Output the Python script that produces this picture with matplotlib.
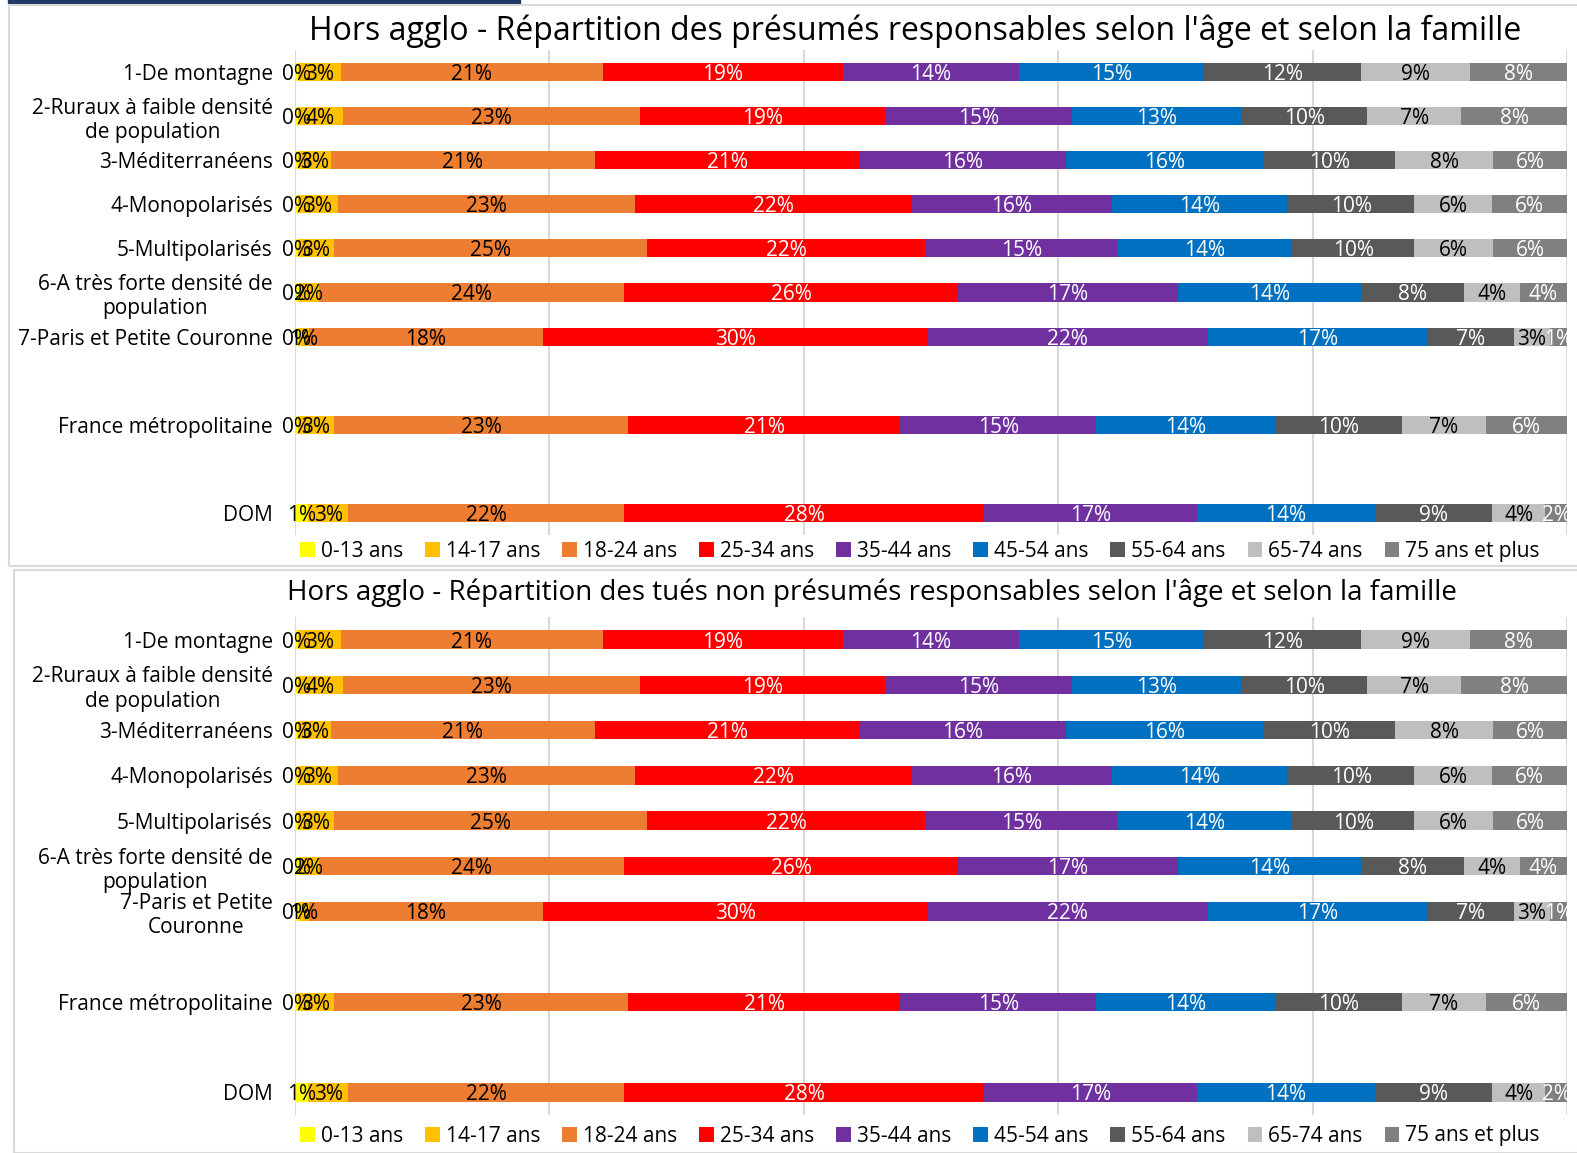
import matplotlib.pyplot as plt
from matplotlib.patches import Rectangle
import numpy as np

plt.rcParams["font.family"] = ["Open Sans", "DejaVu Sans"]

W, H = 1577, 1153

ages = ["0-13 ans", "14-17 ans", "18-24 ans", "25-34 ans", "35-44 ans",
        "45-54 ans", "55-64 ans", "65-74 ans", "75 ans et plus"]
colors = ["#FFFF00", "#FFC000", "#ED7D31", "#FF0000", "#7030A0",
          "#0070C0", "#595959", "#BFBFBF", "#808080"]
text_colors = ["black", "black", "black", "white", "white",
               "white", "white", "black", "white"]

cats_top = ["1-De montagne", "2-Ruraux à faible densité\nde population",
            "3-Méditerranéens", "4-Monopolarisés", "5-Multipolarisés",
            "6-A très forte densité de\npopulation", "7-Paris et Petite Couronne",
            "France métropolitaine", "DOM"]
cats_bottom = ["1-De montagne", "2-Ruraux à faible densité\nde population",
               "3-Méditerranéens", "4-Monopolarisés", "5-Multipolarisés",
               "6-A très forte densité de\npopulation", "7-Paris et Petite\nCouronne",
               "France métropolitaine", "DOM"]
row_pos = [0, 1, 2, 3, 4, 5, 6, 8, 10]

# % par tranche d'âge (0-13 ... 75+)
montagne = [0.2, 3.4, 20.6, 18.9, 13.8, 14.6, 12.3, 8.6, 7.6]
ruraux = [0.2, 3.6, 23.3, 19.3, 14.7, 13.3, 9.9, 7.4, 8.3]
mediterraneens = [0.2, 2.6, 20.8, 20.8, 16.2, 15.6, 10.3, 7.7, 5.8]
monopolarises = [0.2, 3.2, 23.3, 21.8, 15.7, 13.9, 9.9, 6.1, 5.9]
multipolarises = [0.2, 2.9, 24.6, 21.8, 15.2, 13.7, 9.6, 6.2, 5.8]
tres_dense = [0.3, 1.6, 24.0, 26.2, 17.3, 14.4, 8.1, 4.4, 3.7]
paris_pc = [0.3, 0.8, 18.4, 30.2, 22.1, 17.2, 6.8, 2.9, 1.3]
france_metro = [0.2, 2.9, 23.1, 21.4, 15.4, 14.1, 9.9, 6.6, 6.4]
dom = [1.0, 3.2, 21.7, 28.3, 16.7, 14.0, 9.2, 4.2, 1.7]

values = np.array([montagne, ruraux, mediterraneens, monopolarises,
                   multipolarises, tres_dense, paris_pc, france_metro, dom])

fig = plt.figure(figsize=(W / 100, H / 100), dpi=100)
fig.patch.set_facecolor("white")


def px_axes(left, top, right, bottom):
    return fig.add_axes([left / W, 1 - bottom / H, (right - left) / W, (bottom - top) / H])


def draw_panel(ax, cats, title, title_x, title_y, title_size, legend_y):
    left = np.zeros(len(cats))
    handles = []
    for j, age in enumerate(ages):
        w = values[:, j]
        h = ax.barh(row_pos, w, left=left, height=0.41, color=colors[j],
                    label=age, zorder=2)
        handles.append(h)
        for y, l, v in zip(row_pos, left, w):
            ax.text(l + v / 2, y, f"{v:.0f}%", ha="center", va="center_baseline",
                    color=text_colors[j], fontsize=15, zorder=3)
        left += w

    ax.set_xlim(0, 100)
    ax.set_ylim(10.5, -0.5)
    ax.set_xticks(np.arange(0, 101, 20))
    ax.set_xticklabels([])
    ax.tick_params(axis="x", length=0)
    ax.grid(axis="x", color="#D9D9D9", lw=1.5, zorder=0)
    ax.set_yticks(row_pos)
    ax.set_yticklabels(cats, fontsize=15, multialignment="center")
    ax.tick_params(axis="y", length=0, pad=16)
    for s in ax.spines.values():
        s.set_visible(False)

    fig.text(title_x / W, 1 - title_y / H, title,
             ha="center", va="center", fontsize=title_size)
    ax.legend(handles=handles, loc="center", ncol=9, frameon=False,
              bbox_to_anchor=(920 / W, 1 - legend_y / H),
              bbox_transform=fig.transFigure, fontsize=15,
              handlelength=0.7, handleheight=0.7, handletextpad=0.3,
              columnspacing=1.05, borderaxespad=0)


# cadres
fig.add_artist(Rectangle((8 / W, 1 - 3 / H), 512 / W, 3 / H, color="#1F3864",
                         transform=fig.transFigure))
fig.add_artist(Rectangle((9 / W, 1 - 566 / H), 1570 / W, 561 / H, fill=False,
                         ec="#D9D9D9", lw=1.5, transform=fig.transFigure))
fig.add_artist(Rectangle((14 / W, 0), 1570 / W, 1 - 570 / H, fill=False,
                         ec="#D9D9D9", lw=1.5, transform=fig.transFigure))

ax1 = px_axes(295, 50, 1567, 535)
draw_panel(ax1, cats_top,
           "Hors agglo - Répartition des présumés responsables selon l'âge et selon la famille",
           915, 31, 23, 551)

ax2 = px_axes(295, 617, 1567, 1115)
draw_panel(ax2, cats_bottom,
           "Hors agglo - Répartition des tués non présumés responsables selon l'âge et selon la famille",
           872, 593, 20, 1136)

fig.savefig("out.png", dpi=100, facecolor="white")
